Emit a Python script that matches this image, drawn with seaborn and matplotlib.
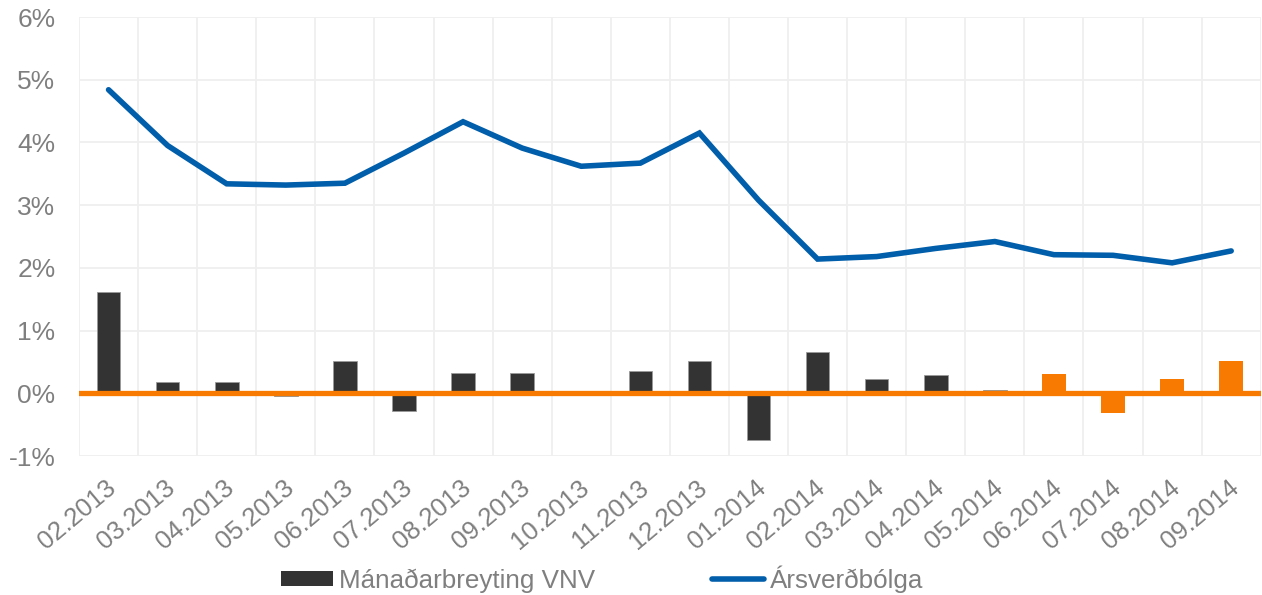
import numpy as np
import pandas as pd
import matplotlib.pyplot as plt
import matplotlib.transforms as mtransforms
from matplotlib.patches import Patch
from matplotlib.lines import Line2D
import seaborn as sns

# Monthly data (values in %)
months = ['02.2013', '03.2013', '04.2013', '05.2013', '06.2013', '07.2013', '08.2013',
          '09.2013', '10.2013', '11.2013', '12.2013', '01.2014', '02.2014', '03.2014',
          '04.2014', '05.2014', '06.2014', '07.2014', '08.2014', '09.2014']
monthly_change = [1.62, 0.18, 0.18, -0.05, 0.52, -0.28, 0.33, 0.33, 0.0, 0.35,
                  0.52, -0.74, 0.66, 0.22, 0.29, 0.06, 0.31, -0.31, 0.22, 0.51]
annual_inflation = [4.84, 3.95, 3.34, 3.32, 3.35, 3.83, 4.33, 3.91, 3.62, 3.67,
                    4.15, 3.08, 2.14, 2.18, 2.31, 2.42, 2.21, 2.20, 2.08, 2.27]
forecast_from = '06.2014'  # bars from here on are drawn in orange

DARK = '#333333'
ORANGE = '#F97A00'
BLUE = '#005EAA'
GREY_TXT = '#7F7F7F'
GRID = '#EFEFEF'

sns.set_style('white')
plt.rcParams['font.family'] = ['Liberation Sans', 'DejaVu Sans']

df = pd.DataFrame({'month': months, 'change': monthly_change, 'annual': annual_inflation})
start = months.index(forecast_from)
bar_colors = [DARK if i < start else ORANGE for i in range(len(months))]

fig = plt.figure(figsize=(12.62, 5.95), dpi=100)
ax = fig.add_axes([79 / 1262, 1 - 456 / 595, 1 - 79 / 1262 - 0.001, (456 - 17) / 595])

sns.barplot(data=df, x='month', y='change', hue='month', palette=bar_colors,
            legend=False, width=0.4, saturation=1, ax=ax, zorder=2)
for i, p in enumerate(ax.patches):
    if i < start:
        p.set_edgecolor('#9A9A9A')
        p.set_linewidth(0.6)
    else:
        p.set_linewidth(0)

ax.axhline(0, color=ORANGE, lw=3.8, zorder=3)
sns.lineplot(x=np.arange(len(months)), y=df['annual'], color=BLUE, lw=4,
             ax=ax, zorder=4, solid_capstyle='round', solid_joinstyle='miter')

ax.set_xlim(-0.5, len(months) - 0.5)
ax.set_ylim(-1, 6)
ax.set_yticks(range(-1, 7))
ax.set_yticklabels([f'{v}%' for v in range(-1, 7)])
ax.set_xticks(np.arange(len(months) + 1) - 0.5, minor=True)
ax.grid(True, which='minor', axis='x', color=GRID, lw=1.3, zorder=0)
ax.grid(True, which='major', axis='y', color=GRID, lw=1.3, zorder=0)
ax.set_axisbelow(True)
ax.set_xlabel('')
ax.set_ylabel('')
for s in ax.spines.values():
    s.set_visible(False)

ax.tick_params(axis='both', which='both', length=0)
ax.tick_params(axis='y', labelsize=19, labelcolor=GREY_TXT, pad=17)
ax.tick_params(axis='x', labelsize=18.5, labelcolor=GREY_TXT, pad=14)
offset = mtransforms.ScaledTranslation(-3 / 100, 0, fig.dpi_scale_trans)
for lbl in ax.get_xticklabels():
    lbl.set_rotation(40)
    lbl.set_ha('right')
    lbl.set_va('top')
    lbl.set_rotation_mode('anchor')
    lbl.set_transform(lbl.get_transform() + offset)

handles = [Patch(facecolor=DARK, edgecolor='none', label='Mánaðarbreyting VNV'),
           Line2D([0], [0], color=BLUE, lw=4, label='Ársverðbólga')]
fig.legend(handles=handles, loc='center', bbox_to_anchor=(602 / 1262, 1 - 579 / 595),
           ncol=2, frameon=False, fontsize=18.7, labelcolor=GREY_TXT,
           handlelength=2.0, handletextpad=0.23, columnspacing=4.5, handleheight=0.5)

fig.savefig('out.png', dpi=100)
